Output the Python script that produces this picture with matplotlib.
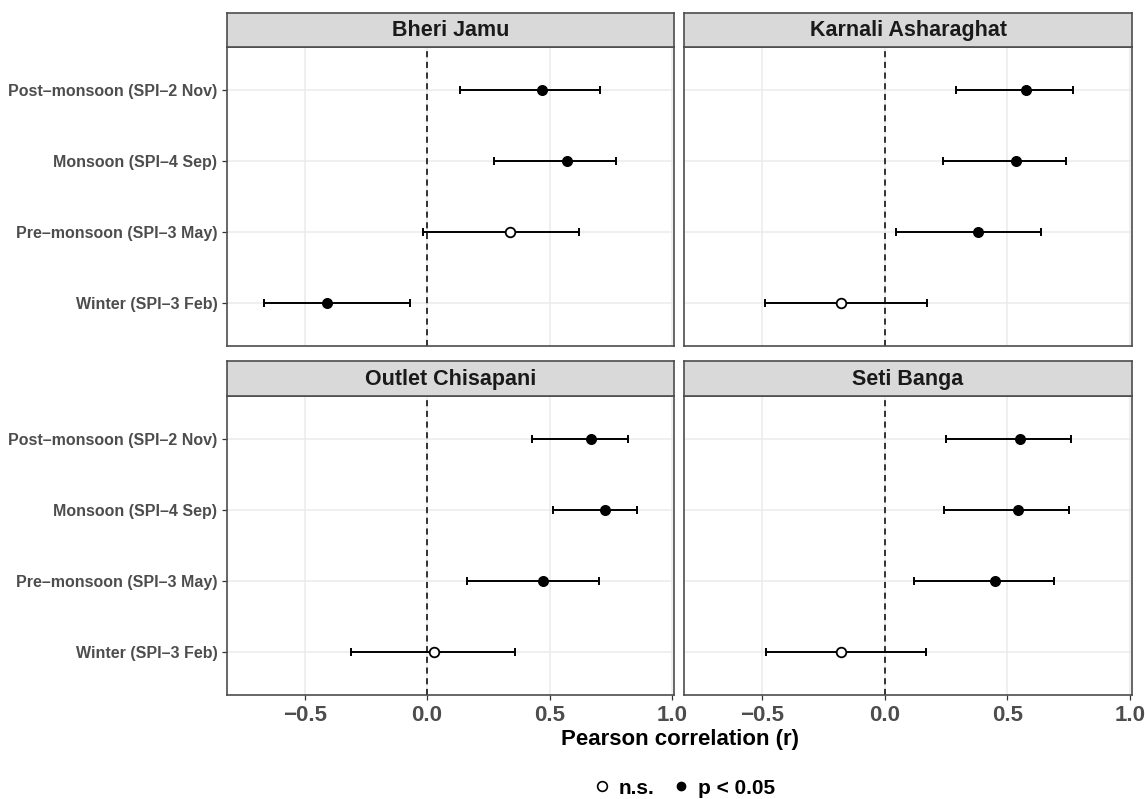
import matplotlib.pyplot as plt
from matplotlib.lines import Line2D

plt.rcParams['font.family'] = ['Liberation Sans', 'DejaVu Sans']

# seasons listed bottom -> top
seasons = ['Winter (SPI\u20133 Feb)', 'Pre\u2013monsoon (SPI\u20133 May)',
           'Monsoon (SPI\u20134 Sep)', 'Post\u2013monsoon (SPI\u20132 Nov)']
stations = ['Bheri Jamu', 'Karnali Asharaghat', 'Outlet Chisapani', 'Seti Banga']

bheri_r = [-0.41, 0.34, 0.57, 0.47]
bheri_lo = [-0.665, -0.015, 0.275, 0.133]
bheri_hi = [-0.07, 0.62, 0.77, 0.706]
bheri_sig = [True, False, True, True]

karnali_r = [-0.178, 0.379, 0.535, 0.575]
karnali_lo = [-0.488, 0.048, 0.239, 0.291]
karnali_hi = [0.172, 0.636, 0.741, 0.766]
karnali_sig = [False, True, True, True]

outlet_r = [0.03, 0.473, 0.727, 0.668]
outlet_lo = [-0.309, 0.163, 0.516, 0.429]
outlet_hi = [0.36, 0.70, 0.855, 0.821]
outlet_sig = [False, True, True, True]

seti_r = [-0.178, 0.45, 0.544, 0.553]
seti_lo = [-0.484, 0.12, 0.242, 0.252]
seti_hi = [0.168, 0.691, 0.751, 0.758]
seti_sig = [False, True, True, True]

panel_data = [
    (bheri_r, bheri_lo, bheri_hi, bheri_sig),
    (karnali_r, karnali_lo, karnali_hi, karnali_sig),
    (outlet_r, outlet_lo, outlet_hi, outlet_sig),
    (seti_r, seti_lo, seti_hi, seti_sig),
]

W, H = 1145, 799
fig = plt.figure(figsize=(W / 100, H / 100), dpi=100)

# panel boxes in pixels
cols = [(227, 674), (684, 1132)]
rows = [(47, 346, 13), (396, 695, 361)]   # top, bottom, strip top

border = '#4D4D4D'
grid_c = '#EBEBEB'
tick_lab_c = '#4D4D4D'

for i, name in enumerate(stations):
    r_i, c_i = divmod(i, 2)
    x0, x1 = cols[c_i]
    top, bot, stop = rows[r_i]
    ax = fig.add_axes([x0 / W, 1 - bot / H, (x1 - x0) / W, (bot - top) / H])
    sax = fig.add_axes([x0 / W, 1 - top / H, (x1 - x0) / W, (top - stop) / H])

    r, lo, hi, sig = panel_data[i]
    y = list(range(1, len(seasons) + 1))

    ax.set_xlim(-0.817, 1.008)
    ax.set_ylim(0.4, 4.6)
    ax.set_xticks([-0.5, 0.0, 0.5, 1.0])
    ax.set_yticks(y)
    ax.grid(True, color=grid_c, linewidth=1.1, zorder=0)
    ax.set_axisbelow(True)
    ax.axvline(0, color='black', linestyle=(0, (4, 3)), linewidth=1.1, zorder=1)

    xerr = [[ri - l for ri, l in zip(r, lo)], [h - ri for ri, h in zip(r, hi)]]
    ax.errorbar(r, y, xerr=xerr, fmt='none', ecolor='black', elinewidth=1.4,
                capsize=3.2, capthick=1.4, zorder=2)
    fx = [v for v, s in zip(r, sig) if s]
    fy = [v for v, s in zip(y, sig) if s]
    ox = [v for v, s in zip(r, sig) if not s]
    oy = [v for v, s in zip(y, sig) if not s]
    ax.scatter(fx, fy, s=48, color='black', zorder=3)
    ax.scatter(ox, oy, s=48, facecolor='white', edgecolor='black',
               linewidth=1.3, zorder=3)

    for sp in ax.spines.values():
        sp.set_color(border)
        sp.set_linewidth(1.2)

    ax.tick_params(axis='both', color='#333333', length=3.5, width=0.9,
                   labelcolor=tick_lab_c)
    if c_i == 0:
        ax.set_yticklabels(seasons, fontsize=11.5, fontweight='bold')
    else:
        ax.tick_params(axis='y', left=False, labelleft=False)
    if r_i == 1:
        ax.set_xticklabels(['\u22120.5', '0.0', '0.5', '1.0'], fontsize=16,
                           fontweight='bold')
    else:
        ax.tick_params(axis='x', bottom=False, labelbottom=False)

    sax.set_facecolor('#D9D9D9')
    sax.set_xticks([])
    sax.set_yticks([])
    for sp in sax.spines.values():
        sp.set_color(border)
        sp.set_linewidth(1.2)
    sax.text(0.5, 0.48, name, ha='center', va='center', fontsize=15.5,
             fontweight='bold', color='#1A1A1A', transform=sax.transAxes)

fig.text(680 / W, 1 - 740 / H, 'Pearson correlation (r)', ha='center',
         va='center', fontsize=16, fontweight='bold')

handles = [
    Line2D([], [], marker='o', linestyle='none', markersize=7,
           markerfacecolor='white', markeredgecolor='black', markeredgewidth=1.2,
           label='n.s.'),
    Line2D([], [], marker='o', linestyle='none', markersize=6,
           color='black', label='p < 0.05'),
]
fig.legend(handles=handles, loc='center', bbox_to_anchor=(683 / W, 1 - 788 / H),
           ncol=2, frameon=False, prop={'weight': 'bold', 'size': 15},
           handletextpad=0.3, columnspacing=0.8, handlelength=1.0)

fig.savefig('out.png', dpi=100)
